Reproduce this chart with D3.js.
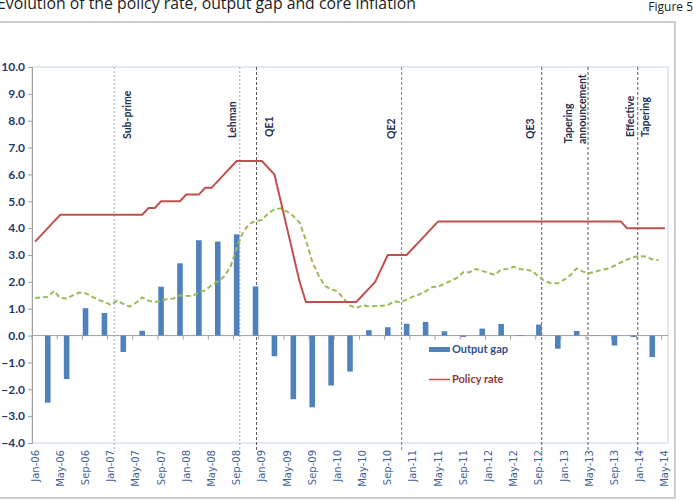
<!DOCTYPE html>
<html><head><meta charset="utf-8">
<script src="https://cdn.jsdelivr.net/npm/d3@7"></script>
<style>body{margin:0;background:#fff}svg{display:block}</style>
</head><body>
<svg id="c" width="693" height="501"></svg>
<script>
// ---------- DATA ----------
const titleText = "Evolution of the policy rate, output gap and core inflation";
const figureText = "Figure 5";
const startMonth = new Date(2006, 0, 1), endMonth = new Date(2014, 5, 1);
const fmt = d3.timeFormat("%b-%y");
const months = d3.timeMonths(startMonth, endMonth).map(fmt); // Jan-06 .. May-14

const xTickLabels = ["Jan-06","May-06","Sep-06","Jan-07","May-07","Sep-07","Jan-08","May-08","Sep-08",
  "Jan-09","May-09","Sep-09","Jan-10","May-10","Sep-10","Jan-11","May-11","Sep-11","Jan-12","May-12",
  "Sep-12","Jan-13","May-13","Sep-13","Jan-14","May-14"];
const yTicks = [-4,-3,-2,-1,0,1,2,3,4,5,6,7,8,9,10];

const gapMonths = ["Mar-06","Jun-06","Sep-06","Dec-06","Mar-07","Jun-07","Sep-07","Dec-07","Mar-08","Jun-08",
  "Sep-08","Dec-08","Mar-09","Jun-09","Sep-09","Dec-09","Mar-10","Jun-10","Sep-10","Dec-10","Mar-11",
  "Jun-11","Sep-11","Dec-11","Mar-12","Jun-12","Sep-12","Dec-12","Mar-13","Jun-13","Sep-13","Dec-13","Mar-14"];
const outputGap = [-2.50,-1.62,1.02,0.84,-0.61,0.18,1.82,2.69,3.55,3.50,3.77,1.83,-0.77,-2.37,-2.67,-1.86,
  -1.34,0.20,0.31,0.44,0.51,0.16,-0.05,0.26,0.43,0.02,0.41,-0.49,0.17,0.01,-0.37,-0.05,-0.80];

const policyRate = [3.50,3.75,4.00,4.25,4.50,4.50,4.50,4.50,4.50,4.50,4.50,4.50,
  4.50,4.50,4.50,4.50,4.50,4.50,4.75,4.75,5.00,5.00,5.00,5.00,
  5.25,5.25,5.25,5.50,5.50,5.75,6.00,6.25,6.50,6.50,6.50,6.50,
  6.50,6.25,6.00,5.00,4.00,3.00,2.00,1.25,1.25,1.25,1.25,1.25,
  1.25,1.25,1.25,1.25,1.50,1.75,2.00,2.50,3.00,3.00,3.00,3.00,
  3.25,3.50,3.75,4.00,4.25,4.25,4.25,4.25,4.25,4.25,4.25,4.25,
  4.25,4.25,4.25,4.25,4.25,4.25,4.25,4.25,4.25,4.25,4.25,4.25,
  4.25,4.25,4.25,4.25,4.25,4.25,4.25,4.25,4.25,4.25,4.00,4.00,
  4.00,4.00,4.00,4.00,4.00];

const coreInflation = [1.40,1.42,1.44,1.66,1.40,1.38,1.50,1.60,1.58,1.45,1.33,1.26,
  1.14,1.30,1.18,1.08,1.22,1.42,1.30,1.24,1.30,1.36,1.38,1.50,
  1.48,1.47,1.62,1.68,1.88,2.02,2.20,2.55,3.25,3.85,4.15,4.27,
  4.30,4.55,4.70,4.74,4.62,4.45,4.20,3.55,2.75,2.25,1.85,1.72,
  1.65,1.38,1.12,1.02,1.13,1.08,1.10,1.11,1.13,1.28,1.24,1.34,
  1.45,1.53,1.65,1.80,1.82,1.93,2.04,2.15,2.36,2.36,2.48,2.41,
  2.33,2.26,2.46,2.48,2.56,2.48,2.45,2.40,2.18,2.02,1.94,1.95,
  2.08,2.25,2.50,2.38,2.32,2.38,2.45,2.50,2.60,2.72,2.83,2.92,
  2.96,2.94,2.84,2.81,null];

// events: position in months from start of Jan-06 (fractional)
const eventLabels = [["Sub-prime"],["Lehman"],["QE1"],["QE2"],["QE3"],["Tapering","announcement"],["Effective","Tapering"]];
const eventPos = [13.05, 33.0, 35.65, 58.7, 80.95, 88.3, 96.2];

const legendLabels = ["Output gap","Policy rate"];

// ---------- LAYOUT / STYLE ----------
const plot = {left: 32, right: 668, top: 67, bottom: 443};
const colBar = "#4F81BD", colRed = "#C0504D", colGreen = "#9BBB59";
const eventStyle = [
  {stroke:"#A6A6A6", dash:"2,2", dx:[13], y:[139]},
  {stroke:"#A6A6A6", dash:"2,2", dx:[-7], y:[138]},
  {stroke:"#595959", dash:"3,2", dx:[13], y:[137]},
  {stroke:"#808080", dash:"3,2", dx:[-10.5], y:[139]},
  {stroke:"#595959", dash:"3,2", dx:[-11.7], y:[139]},
  {stroke:"#595959", dash:"3,2", dx:[-19.3,-5.8], y:[143.5,144]},
  {stroke:"#595959", dash:"3,2", dx:[-7.3,7.7], y:[137,137]}
];

const svg = d3.select("#c");

// title
svg.append("text").attr("x", -3).attr("y", 9).attr("font-family","Open Sans").attr("font-size",15.8)
  .attr("fill","#222").text(titleText);
svg.append("text").attr("x", 693).attr("y", 11).attr("text-anchor","end").attr("font-family","Open Sans")
  .attr("font-size",12).attr("fill","#222").text(figureText);

// outer frame
svg.append("rect").attr("x",-2).attr("y",22).attr("width",677).attr("height",476)
  .attr("fill","none").attr("stroke","#BFBFBF").attr("stroke-width",1.5);

// scales
const x = d3.scaleBand().domain(months).range([plot.left, plot.right]).padding(0);
const bw = x.bandwidth();
const xc = m => x(m) + bw/2;
const xi = d3.scaleLinear().domain([0, months.length]).range([plot.left, plot.right]);
const y = d3.scaleLinear().domain([-4, 10]).range([plot.bottom, plot.top]);

// plot border
svg.append("rect").attr("x",plot.left).attr("y",plot.top).attr("width",plot.right-plot.left)
  .attr("height",plot.bottom-plot.top).attr("fill","none").attr("stroke","#C6D4E8").attr("stroke-width",1);

// y axis
const yAxis = d3.axisLeft(y).tickValues(yTicks).tickFormat(d3.format(".1f")).tickSize(4).tickPadding(3);
const gy = svg.append("g").attr("transform",`translate(${plot.left},0)`).call(yAxis);
gy.select(".domain").attr("stroke","#A0A0A0");
gy.selectAll(".tick line").attr("stroke","#A0A0A0");
gy.selectAll(".tick text").attr("font-family","Lato").attr("font-weight","bold")
  .attr("font-size",12).attr("fill","#1F3A6E");

// x axis at zero
const tickBoundaries = d3.range(0, months.length + 1, 4);
const gx = svg.append("g");
gx.append("line").attr("x1",plot.left).attr("x2",plot.right).attr("y1",y(0)).attr("y2",y(0))
  .attr("stroke","#A0A0A0");
gx.selectAll("line.tk").data(tickBoundaries).join("line").attr("class","tk")
  .attr("x1",d=>xi(d)).attr("x2",d=>xi(d)).attr("y1",y(0)).attr("y2",y(0)+4).attr("stroke","#A0A0A0");
// x tick labels at bottom
svg.append("g").selectAll("text").data(xTickLabels).join("text")
  .attr("transform", d => `translate(${xc(d)},${plot.bottom+7}) rotate(-90)`)
  .attr("text-anchor","end").attr("dy","0.35em")
  .attr("font-family","DejaVu Sans").attr("font-size",10).attr("fill","#3F5F9A").text(d=>d);

// event lines
const ev = svg.append("g");
eventPos.forEach((p,i)=>{
  const st = eventStyle[i], ex = xi(p);
  ev.append("line").attr("x1",ex).attr("x2",ex).attr("y1",plot.top).attr("y2",452)
    .attr("stroke",st.stroke).attr("stroke-width",1).attr("stroke-dasharray",st.dash);
  eventLabels[i].forEach((t,j)=>{
    ev.append("text").attr("transform",`translate(${ex+st.dx[j]},${st.y[j]}) rotate(-90)`)
      .attr("dy","0.35em").attr("font-family","Lato").attr("font-weight","bold").attr("font-size",10.5)
      .attr("fill","#1F3050").text(t);
  });
});

// bars
svg.append("g").selectAll("rect").data(gapMonths.map((m,i)=>({m, v: outputGap[i]}))).join("rect")
  .attr("x", d => xc(d.m) - 2.8).attr("width", 5.6)
  .attr("y", d => y(Math.max(0,d.v))).attr("height", d => Math.abs(y(d.v)-y(0)))
  .attr("fill", colBar);

// core inflation line
const lineGen = d3.line().defined(d=>d.v!=null).x(d=>xc(d.m)).y(d=>y(d.v));
svg.append("path").datum(months.map((m,i)=>({m, v: coreInflation[i]})))
  .attr("d", lineGen).attr("fill","none").attr("stroke",colGreen).attr("stroke-width",2)
  .attr("stroke-dasharray","5,3");
// policy rate line
svg.append("path").datum(months.map((m,i)=>({m, v: policyRate[i]})))
  .attr("d", lineGen).attr("fill","none").attr("stroke",colRed).attr("stroke-width",2);

// legend
const lg = svg.append("g").attr("font-family","Lato").attr("font-weight","bold").attr("font-size",11);
lg.append("rect").attr("x",429).attr("y",347).attr("width",21).attr("height",5).attr("fill",colBar);
lg.append("text").attr("x",452).attr("y",349.5).attr("dy","0.35em").attr("fill","#2F4F8F").text(legendLabels[0]);
lg.append("line").attr("x1",429).attr("x2",450).attr("y1",379.5).attr("y2",379.5).attr("stroke",colRed).attr("stroke-width",1.5);
lg.append("text").attr("x",452).attr("y",379.5).attr("dy","0.35em").attr("fill","#943634").text(legendLabels[1]);
</script>
</body></html>
